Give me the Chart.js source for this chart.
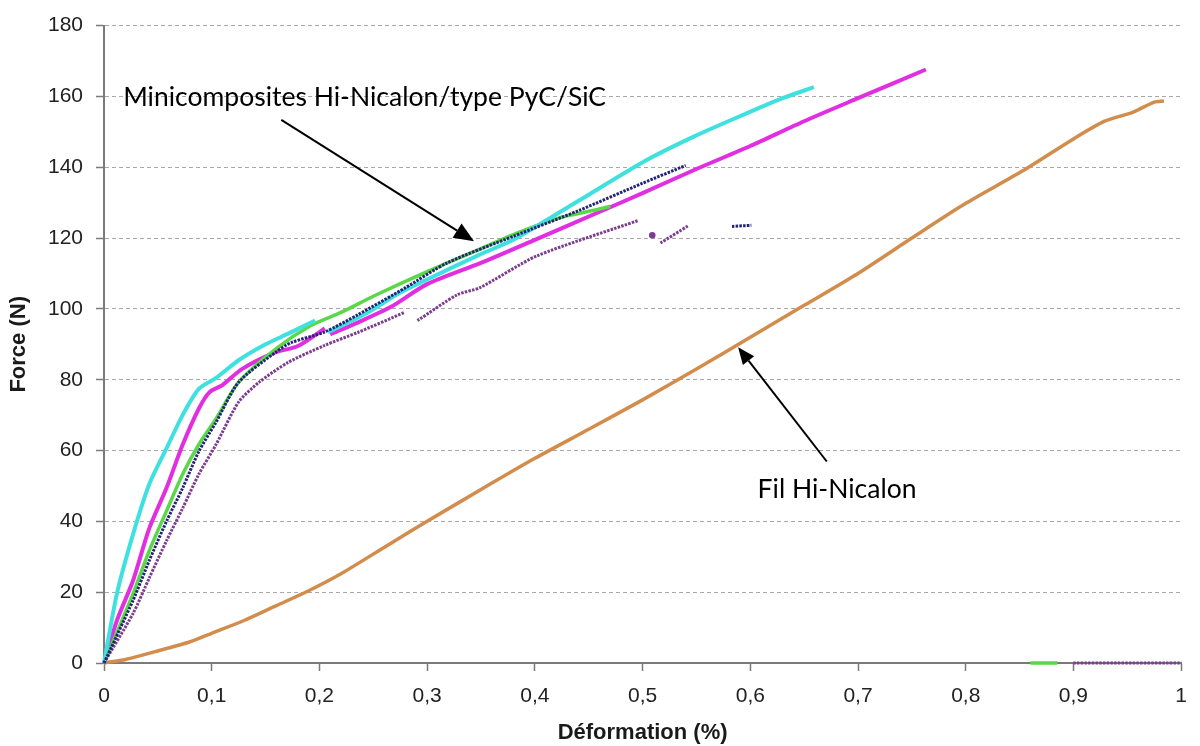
<!DOCTYPE html>
<html>
<head>
<meta charset="utf-8">
<title>Force - déformation</title>
<script src="https://cdn.jsdelivr.net/npm/chart.js@4.4.1/dist/chart.umd.min.js"></script>
<style>
  html, body { margin: 0; padding: 0; background: #fff; }
  #wrap { width: 1200px; height: 746px; }
</style>
</head>
<body>
<div id="wrap"><canvas id="myChart"></canvas></div>
<script>
// values (x in %, y in N); null = break in the curve
const cyanX = [0, 0.012, 0.027, 0.042, 0.058, 0.073, 0.088, 0.104, 0.125, 0.15, 0.171, 0.196, null,
               0.208, 0.245, 0.275, 0.3, 0.35, 0.38, 0.441, 0.503, 0.55, 0.595, 0.63, 0.659];
const cyanY = [0, 19.6, 36.4, 50.5, 60.6, 70, 77.4, 80.5, 85.5, 90, 93, 96.7, null,
               93.4, 99, 104.6, 108.3, 115.5, 119.5, 130.6, 141.9, 149, 155, 159.5, 162.6];

const magentaX = [0, 0.012, 0.027, 0.042, 0.058, 0.073, 0.088, 0.098, 0.11, 0.128, 0.159, 0.18, 0.205, null,
                  0.21, 0.236, 0.266, 0.3, 0.35, 0.4, 0.457, 0.5, 0.55, 0.6, 0.65, 0.7, 0.763];
const magentaY = [0, 12, 23.3, 38, 49.4, 61.6, 71.8, 76.5, 78.5, 83, 87.7, 89.5, 94.5, null,
                  92.8, 96.2, 100.5, 107, 113, 119.5, 127, 132.7, 139.5, 146, 153, 159.5, 167.6];

const greenX = [0, 0.027, 0.042, 0.058, 0.073, 0.088, 0.104, 0.125, 0.159, 0.192, 0.22, 0.251, 0.3, 0.35, 0.38, 0.42, 0.457, 0.47, null,
                0.86, 0.885];
const greenY = [0, 19.6, 31.7, 42.9, 53.3, 61.7, 69, 79.3, 88.6, 95.3, 99, 103.7, 110.5, 117, 121, 125.5, 128, 129, null,
                0, 0];

const navyX = [0, 0.027, 0.042, 0.058, 0.073, 0.088, 0.104, 0.125, 0.159, 0.174, 0.205, 0.236, 0.28, 0.3186, 0.38, 0.441, 0.5, 0.54, null,
               0.583, 0.601];
const navyY = [0, 17.7, 28.9, 40, 49.4, 59.7, 68, 79.3, 87.7, 90.5, 93.5, 98.4, 106, 113, 120.5, 127.8, 135.5, 140.5, null,
               123.3, 123.6];

const purpleX = [0, 0.027, 0.042, 0.058, 0.073, 0.088, 0.104, 0.125, 0.144, 0.171, 0.205, 0.236, 0.279, null,
                 0.291, 0.328, 0.349, 0.4015, 0.4963, null, 0.509, null, 0.5166, 0.542, null, 0.9, 1.0];
const purpleY = [0, 14, 24, 34.5, 43.7, 53.3, 61.7, 73.7, 79.3, 84.9, 89.7, 93.4, 99, null,
                 96.7, 104, 106, 114.9, 125, null, 120.8, null, 118.6, 123.4, null, 0, 0];

const filX = [0, 0.02, 0.05, 0.08, 0.1, 0.13, 0.16, 0.19, 0.22, 0.263, 0.3, 0.35, 0.4, 0.45, 0.5, 0.55, 0.6, 0.65, 0.7,
              0.75, 0.8, 0.853, 0.9, 0.929, 0.955, 0.975, 0.984];
const filY = [0, 1, 3.4, 6, 8.4, 12, 16.2, 20.4, 25.2, 33.2, 40, 49, 57.8, 66, 74.3, 83, 92, 101, 110,
              120, 129.8, 139, 148, 153, 155.5, 158.4, 158.7];

const xTicks = [0, 0.1, 0.2, 0.3, 0.4, 0.5, 0.6, 0.7, 0.8, 0.9, 1];
const yTicks = [0, 20, 40, 60, 80, 100, 120, 140, 160, 180];

// annotations, in data units
const labels = [
	{ text: 'Minicomposites Hi-Nicalon/type PyC/SiC', x: 0.0178, y: 157.4 },
	{ text: 'Fil Hi-Nicalon', x: 0.6068, y: 46.5 }
];
const arrows = [
	{ from: [0.1646, 153.4], to: [0.3435, 119.1], head: 20 },
	{ from: [0.671, 56.9], to: [0.5887, 89.2], head: 17 }
];

function pts(xs, ys) {
	return xs.map((x, i) => ({ x: x, y: ys[i] }));
}

// a lone point between two breaks still gets a dot
function loneDot(ctx) {
	const d = ctx.dataset.data, i = ctx.dataIndex;
	const prev = i > 0 ? d[i - 1].y : null, next = i < d.length - 1 ? d[i + 1].y : null;
	return (prev === null && next === null) ? 1.8 : 0;
}

const annotate = {
	id: 'annotate',
	afterDatasetsDraw(chart) {
		const ctx = chart.ctx;
		const sx = chart.scales.x, sy = chart.scales.y;
		ctx.save();
		ctx.fillStyle = '#000';
		ctx.strokeStyle = '#000';
		ctx.font = '26.5px Lato';
		ctx.textBaseline = 'alphabetic';
		labels.forEach(l => {
			ctx.fillText(l.text, sx.getPixelForValue(l.x), sy.getPixelForValue(l.y));
		});
		arrows.forEach(a => {
			const x1 = sx.getPixelForValue(a.from[0]), y1 = sy.getPixelForValue(a.from[1]);
			const x2 = sx.getPixelForValue(a.to[0]), y2 = sy.getPixelForValue(a.to[1]);
			const ang = Math.atan2(y2 - y1, x2 - x1);
			const bx = x2 - a.head * Math.cos(ang), by = y2 - a.head * Math.sin(ang);
			ctx.lineWidth = 2;
			ctx.beginPath();
			ctx.moveTo(x1, y1);
			ctx.lineTo(bx, by);
			ctx.stroke();
			const w = a.head * 0.42;
			ctx.beginPath();
			ctx.moveTo(x2, y2);
			ctx.lineTo(bx + w * Math.sin(ang), by - w * Math.cos(ang));
			ctx.lineTo(bx - w * Math.sin(ang), by + w * Math.cos(ang));
			ctx.closePath();
			ctx.fill();
		});
		ctx.restore();
	}
};

const data = {
	datasets: [
		{ data: pts(navyX, navyY), borderColor: '#232377', backgroundColor: '#232377', borderWidth: 3, borderDash: [2.5, 1.2], pointRadius: 0 },
		{ data: pts(purpleX, purpleY), borderColor: '#7d3d8f', backgroundColor: '#7d3d8f', borderWidth: 3, borderDash: [2.5, 1.2], pointRadius: loneDot },
		{ data: pts(cyanX, cyanY), borderColor: '#3fe0e0', backgroundColor: '#3fe0e0', borderWidth: 4, pointRadius: 0 },
		{ data: pts(greenX, greenY), borderColor: '#5ad84a', backgroundColor: '#5ad84a', borderWidth: 3.5, pointRadius: 0 },
		{ data: pts(magentaX, magentaY), borderColor: '#e02ee0', backgroundColor: '#e02ee0', borderWidth: 4, pointRadius: 0 },
		{ data: pts(filX, filY), borderColor: '#d28c4c', backgroundColor: '#d28c4c', borderWidth: 3.5, pointRadius: 0 }
	]
};
data.datasets.forEach(d => { d.showLine = true; d.spanGaps = false; d.clip = false; d.tension = 0.25; });

const tickFont = { family: '"Liberation Sans", Arial, sans-serif', size: 21 };
const titleFont = { family: '"Liberation Sans", Arial, sans-serif', size: 22, weight: 'bold' };

const config = {
	type: 'scatter',
	data: data,
	options: {
		responsive: false,
		animation: false,
		layout: { padding: { top: 21, right: 10, left: 0, bottom: 0 } },
		plugins: { legend: { display: false }, tooltip: { enabled: false } },
		scales: {
			x: {
				type: 'linear',
				min: 0,
				max: 1,
				afterBuildTicks: s => { s.ticks = xTicks.map(v => ({ value: v })); },
				afterFit: s => { s.height = 83; },
				ticks: {
					font: tickFont,
					color: '#222',
					padding: 13,
					autoSkip: false,
					maxRotation: 0,
					callback: v => String(Math.round(v * 10) / 10).replace('.', ',')
				},
				grid: { drawOnChartArea: false, tickLength: 8, tickColor: '#7a7a7a', tickWidth: 1.5 },
				border: { color: '#7a7a7a', width: 2 },
				title: { display: true, text: 'Déformation (%)', font: titleFont, color: '#1a1a1a', padding: { top: 0, bottom: 0 } }
			},
			y: {
				type: 'linear',
				min: 0,
				max: 180,
				afterBuildTicks: s => { s.ticks = yTicks.map(v => ({ value: v })); },
				afterFit: s => { s.width = 104; },
				ticks: { font: tickFont, color: '#222', padding: 13 },
				grid: { color: '#a8a8a8', lineWidth: 1, tickLength: 8, tickColor: '#7a7a7a', tickWidth: 1.5 },
				border: { color: '#7a7a7a', width: 2, dash: [4, 3] },
				title: { display: true, text: 'Force (N)', font: titleFont, color: '#1a1a1a', padding: { top: 6, bottom: 0 } }
			}
		}
	},
	plugins: [annotate]
};

const canvas = document.getElementById('myChart');
canvas.width = 1200;
canvas.height = 746;
const myChart = new Chart(canvas, config);
</script>
</body>
</html>
